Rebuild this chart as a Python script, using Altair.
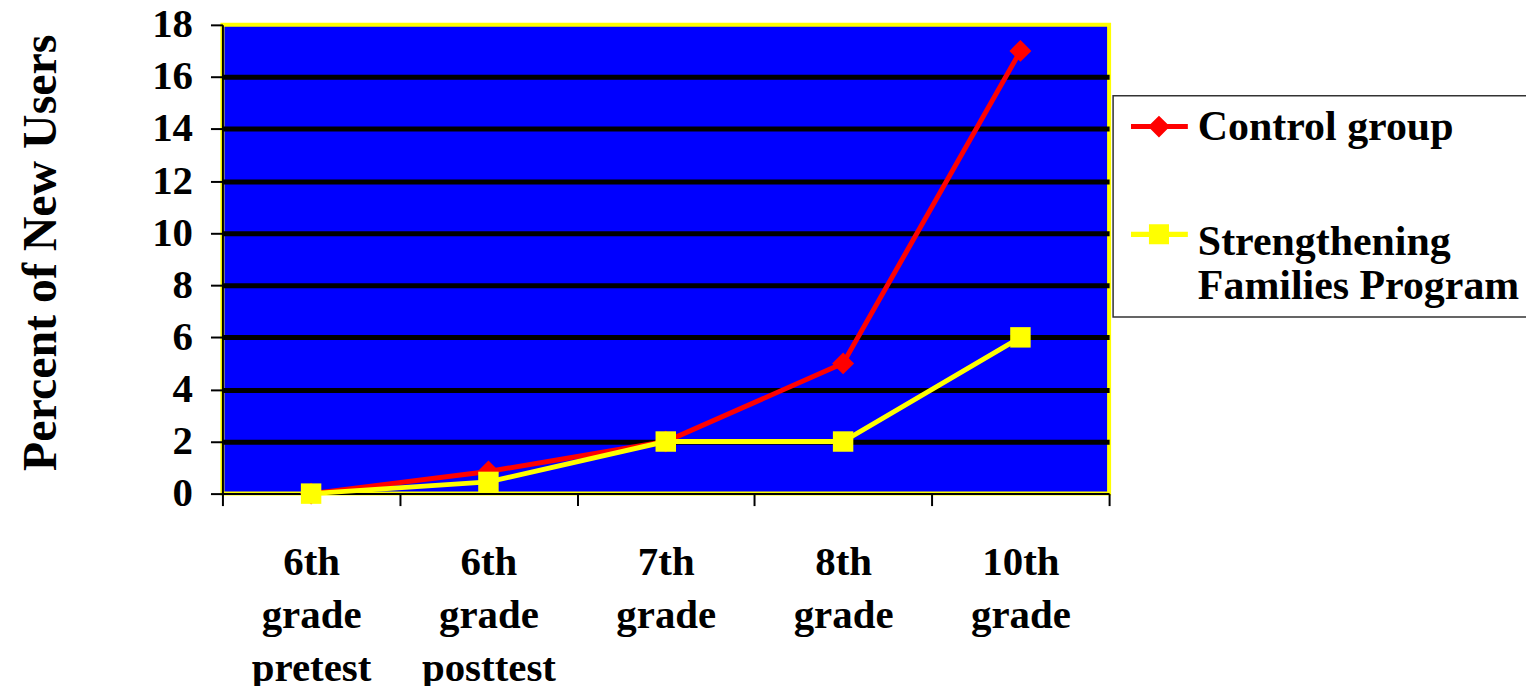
import altair as alt
import pandas as pd

grades = ["6th grade pretest", "6th grade posttest", "7th grade", "8th grade", "10th grade"]
control = [0, 0.85, 2, 5, 17]
sfp = [0, 0.45, 2, 2, 6]
series_names = ["Control group", "Strengthening Families Program"]
series_colors = ["#FF0000", "#FFFF00"]
y_ticks = [0, 2, 4, 6, 8, 10, 12, 14, 16, 18]

rows = []
for g, c, s in zip(grades, control, sfp):
    rows.append({"grade": g, "series": series_names[0], "value": c})
    rows.append({"grade": g, "series": series_names[1], "value": s})
df = pd.DataFrame(rows)

FONT = "Liberation Serif"

x_enc = alt.X(
    "grade:N",
    sort=grades,
    scale=alt.Scale(type="band", domain=grades, paddingInner=0, paddingOuter=0),
    axis=alt.Axis(
        title=None,
        labelExpr="split(datum.label, ' ')",
        labelFont=FONT, labelFontSize=41, labelFontWeight="bold", labelColor="black",
        labelLineHeight=53, labelPadding=37, labelAngle=0, labelOverlap=False, labelLimit=400,
        tickBand="extent", tickSize=12, tickColor="black", tickWidth=2,
        domainColor="black", domainWidth=2, grid=False,
    ),
)

y_enc = alt.Y(
    "value:Q",
    scale=alt.Scale(domain=[0, 18], nice=False),
    axis=alt.Axis(
        values=y_ticks,
        title="Percent of New Users",
        titleFont=FONT, titleFontSize=48, titleFontWeight="bold", titleColor="black",
        titleX=-181, titleY=228, titleAngle=270, titleBaseline="middle", titleAlign="center",
        labelFont=FONT, labelFontSize=41, labelFontWeight="bold", labelColor="black",
        labelPadding=18, labelOverlap=False,
        tickSize=12, tickColor="black", tickWidth=2,
        domainColor="black", domainWidth=2,
        grid=True, gridColor="black", gridWidth=5,
        gridOpacity={"condition": {"test": "datum.value == 0 || datum.value == 18", "value": 0}, "value": 1},
    ),
)

# legend symbols: line segment with marker (custom SVG paths)
ctrl_path = "M-0.87,-0.17H2.93V0.17H-0.87Z M1.0,-0.73L1.73,0L1.0,0.73L0.27,0Z"
sfp_path = "M-0.87,-0.7H2.93V-0.36H-0.87Z M0.33,-1.2H1.67V0.14H0.33Z"

legend = alt.Legend(
    title=None, orient="none", legendX=893, legendY=71, direction="vertical",
    labelFont=FONT, labelFontSize=42, labelFontWeight="bold", labelColor="black",
    labelLimit=600, labelOffset=33, padding=10, rowPadding=74, symbolSize=900,
    symbolStrokeWidth=0, symbolOpacity=1,
    strokeColor="#333333", fillColor="white",
    labelExpr="datum.label == 'Strengthening Families Program' ? ['Strengthening', 'Families Program'] : datum.label",
)

base = alt.Chart(df)

def series_layers(name, color, shape, size):
    sub = base.transform_filter(alt.datum.series == name)
    ln = sub.mark_line(strokeWidth=5, color=color).encode(x=x_enc, y=y_enc)
    pt = sub.mark_point(shape=shape, filled=True, size=size, color=color, opacity=1).encode(x=x_enc, y=y_enc)
    return [ln, pt]

red_layers = series_layers(series_names[0], series_colors[0], "diamond", 484)
yel_layers = series_layers(series_names[1], series_colors[1], "square", 420)

legend_layer = base.transform_filter("datum.value < 0").mark_point(filled=True, opacity=1).encode(
    x=x_enc, y=y_enc,
    color=alt.Color("series:N", scale=alt.Scale(domain=series_names, range=series_colors), legend=legend),
    shape=alt.Shape("series:N", scale=alt.Scale(domain=series_names, range=[ctrl_path, sfp_path]), legend=legend),
)

chart = alt.layer(*red_layers, *yel_layers, legend_layer).properties(
    width=889, height=470,
    background="white",
    autosize=alt.AutoSizeParams(type="none"),
    padding={"left": 215, "top": 16, "right": 418, "bottom": 192},
).configure_view(
    fill="#0000FF", stroke="#FFFF00", strokeWidth=4
).configure_legend(
    strokeWidth=1.5
)

chart.save("out.html", embed_options={"renderer": "svg", "actions": False})
